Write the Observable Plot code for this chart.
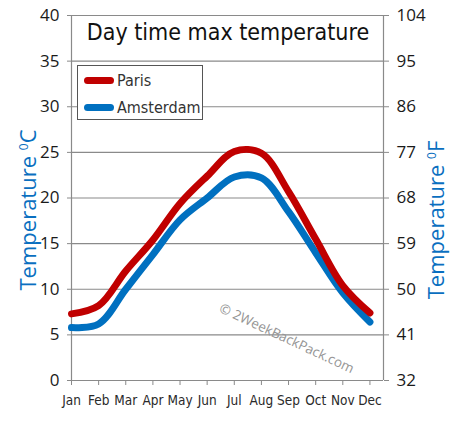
<!DOCTYPE html>
<html><head><meta charset="utf-8">
<script src="https://cdn.jsdelivr.net/npm/d3@7"></script>
<script src="https://cdn.jsdelivr.net/npm/@observablehq/plot@0.6"></script>
<style>
body{margin:0;background:#fff;}
#wrap{position:relative;width:450px;height:421px;overflow:hidden;}
.ov{position:absolute;white-space:nowrap;}
.narrow{font-family:"Liberation Sans Narrow","DejaVu Sans Condensed","Liberation Sans",sans-serif;}
#title{left:228px;top:32px;transform:translate(-50%,-50%);font-size:23px;color:#111;line-height:1;}
.ylab{font-family:"Open Sans","DejaVu Sans",sans-serif;font-size:22px;line-height:1;color:#0a6fc0;transform:translate(-50%,-50%) rotate(-90deg);}
.ylab sup{font-size:12px;}
#legend{left:77px;top:65px;width:124px;height:53px;border:1px solid #555;background:#fff;}
.lg{position:absolute;left:6px;width:30px;height:7px;border-radius:4px;}
.lt{position:absolute;left:39px;font-size:16px;color:#333;line-height:17px;}
#wm{left:287px;top:338px;transform:translate(-50%,-50%) rotate(25deg);font-family:"Open Sans","DejaVu Sans",sans-serif;font-size:13.5px;color:#959595;}
</style></head><body><div id="wrap"></div>
<script>
const months = ["Jan","Feb","Mar","Apr","May","Jun","Jul","Aug","Sep","Oct","Nov","Dec"];
const paris = [7.3, 8.2, 12.0, 15.4, 19.4, 22.4, 25.1, 24.9, 20.7, 15.5, 10.4, 7.4];
const amsterdam = [5.8, 6.2, 10.0, 13.8, 17.6, 20.0, 22.3, 22.2, 18.5, 14.0, 9.6, 6.4];
const celsiusTicks = [0, 5, 10, 15, 20, 25, 30, 35, 40];
const fahrenheitLabels = ["32", "41", "50", "59", "68", "77", "86", "95", "104"];
const seriesNames = ["Paris", "Amsterdam"];
const seriesColors = ["#c00000", "#0070c0"];

const rows = months.map((m, i) => ({i, m, paris: paris[i], amsterdam: amsterdam[i]}));
const grid = "#8a8a8a";
const tickFont = "'Open Sans','DejaVu Sans',sans-serif";

const chart = Plot.plot({
  width: 450, height: 421,
  marginLeft: 71, marginRight: 67, marginTop: 15, marginBottom: 41,
  style: {background: "white", color: "#1a1a1a", fontFamily: tickFont, fontSize: "17px"},
  x: {domain: [0, 11.5], axis: null},
  y: {domain: [0, 40], axis: null},
  marks: [
    Plot.ruleY(celsiusTicks, {stroke: grid, strokeWidth: 1.2}),
    Plot.ruleX([0, 11.5], {stroke: grid, strokeWidth: 1.2}),
    Plot.axisY({anchor: "left", ticks: celsiusTicks, tickSize: 4, tickPadding: 8, stroke: grid, fill: "#1a1a1a", label: null, fontSize: 17}),
    Plot.axisY({anchor: "right", ticks: celsiusTicks, tickSize: 5, tickPadding: 8, stroke: grid, fill: "#1a1a1a", label: null, fontSize: 17,
      tickFormat: d => fahrenheitLabels[celsiusTicks.indexOf(d)]}),
    Plot.axisX({ticks: d3.range(12), tickSize: 5, tickPadding: 10, stroke: grid, fill: "#2a2a2a", label: null, fontSize: 13.5,
      fontFamily: "'Liberation Sans Narrow','DejaVu Sans Condensed',sans-serif", tickFormat: d => months[d]}),
    Plot.line(rows, {x: "i", y: "paris", curve: "catmull-rom", stroke: "#2e2e2e", strokeWidth: 7, dx: 4, dy: 6, ariaLabel: "shadow"}),
    Plot.line(rows, {x: "i", y: "amsterdam", curve: "catmull-rom", stroke: "#2e2e2e", strokeWidth: 7, dx: 4, dy: 6, ariaLabel: "shadow"}),
    Plot.line(rows, {x: "i", y: "amsterdam", curve: "catmull-rom", stroke: seriesColors[1], strokeWidth: 7}),
    Plot.line(rows, {x: "i", y: "paris", curve: "catmull-rom", stroke: seriesColors[0], strokeWidth: 7})
  ]
});

const svg = d3.select(chart);
svg.insert("defs", ":first-child").html('<filter id="sh" x="-20%" y="-20%" width="140%" height="140%"><feGaussianBlur stdDeviation="2"/></filter>');
svg.selectAll('g[aria-label="shadow"]').attr("filter", "url(#sh)").attr("opacity", 1);

const wrap = document.getElementById("wrap");
wrap.appendChild(chart);

const add = (html) => { wrap.insertAdjacentHTML("beforeend", html); };
add('<div id="title" class="ov narrow">Day time max temperature</div>');
add('<div class="ov ylab" style="left:27px;top:210px;">Temperature <sup>0</sup>C</div>');
add('<div class="ov ylab" style="left:435px;top:220px;">Temperature <sup>0</sup>F</div>');
add('<div id="wm" class="ov">© 2WeekBackPack.com</div>');
let lg = '<div id="legend" class="ov narrow">';
seriesNames.forEach((n, k) => {
  lg += `<div class="lg" style="top:${11 + k * 27}px;background:${seriesColors[k]}"></div>`;
  lg += `<div class="lt" style="top:${6 + k * 27}px">${n}</div>`;
});
lg += '</div>';
add(lg);
</script></body></html>
